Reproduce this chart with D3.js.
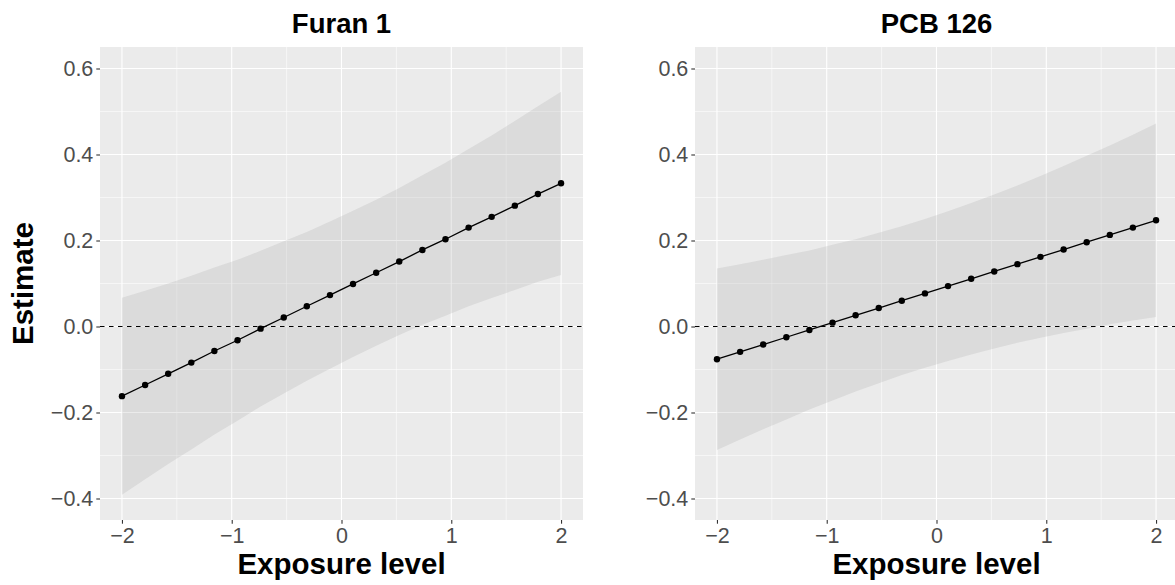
<!DOCTYPE html>
<html>
<head>
  <meta charset="utf-8">
  <style>
    body { margin: 0; background: #ffffff; }
    text { font-family: "Liberation Sans", Arial, sans-serif; }
  </style>
</head>

<body>
  <script src="https://cdn.jsdelivr.net/npm/d3@7"></script>

  <script>
    // exposure levels (20 points from -2 to 2)
    var exposure = [-2, -1.789, -1.579, -1.368, -1.158, -0.947, -0.737, -0.526, -0.316, -0.105,
                    0.105, 0.316, 0.526, 0.737, 0.947, 1.158, 1.368, 1.579, 1.789, 2];

    // Furan 1
    var furanEst = [-0.162, -0.136, -0.110, -0.084, -0.057, -0.032, -0.005, 0.021, 0.047, 0.073,
                    0.099, 0.125, 0.151, 0.178, 0.203, 0.230, 0.255, 0.281, 0.308, 0.333];
    var furanUpper = [0.067, 0.083, 0.100, 0.118, 0.137, 0.155, 0.176, 0.198, 0.220, 0.244,
                      0.269, 0.295, 0.322, 0.352, 0.381, 0.413, 0.444, 0.478, 0.512, 0.546];
    var furanLower = [-0.391, -0.355, -0.320, -0.286, -0.251, -0.219, -0.186, -0.156, -0.126, -0.098,
                      -0.071, -0.045, -0.020, 0.004, 0.025, 0.047, 0.066, 0.085, 0.104, 0.120];

    // PCB 126
    var pcbEst = [-0.076, -0.059, -0.042, -0.025, -0.008, 0.009, 0.026, 0.043, 0.060, 0.077,
                  0.094, 0.111, 0.128, 0.145, 0.162, 0.179, 0.196, 0.213, 0.230, 0.247];
    var pcbUpper = [0.135, 0.145, 0.155, 0.166, 0.177, 0.190, 0.203, 0.218, 0.233, 0.250,
                    0.268, 0.287, 0.307, 0.328, 0.350, 0.373, 0.397, 0.421, 0.446, 0.472];
    var pcbLower = [-0.287, -0.263, -0.239, -0.216, -0.193, -0.172, -0.151, -0.132, -0.113, -0.096,
                    -0.080, -0.065, -0.051, -0.038, -0.026, -0.015, -0.005, 0.005, 0.014, 0.022];

    var panelTitles = ["Furan 1", "PCB 126"];
    var xTicks = [-2, -1, 0, 1, 2];
    var xMinor = [-1.5, -0.5, 0.5, 1.5];
    var yTicks = [-0.4, -0.2, 0.0, 0.2, 0.4, 0.6];
    var yMinor = [-0.3, -0.1, 0.1, 0.3, 0.5];

    var panels = [
      {title: panelTitles[0], est: furanEst, lo: furanLower, hi: furanUpper, left: 100},
      {title: panelTitles[1], est: pcbEst, lo: pcbLower, hi: pcbUpper, left: 695}
    ];

    var W = 1175, H = 585;
    var panelTop = 47, pw = 483, ph = 473;

    var svg = d3.select("body").append("svg")
      .attr("width", W)
      .attr("height", H);

    var yScale = d3.scaleLinear().domain([-0.45, 0.65]).range([ph, 0]);
    var xScale = d3.scaleLinear().domain([-2.2, 2.2]).range([0, pw]);
    var fmt = function(d) { return d3.format(".1f")(d).replace("-", "\u2212"); };
    var fmtX = function(d) { return String(d).replace("-", "\u2212"); };

    panels.forEach(function(p) {
      var g = svg.append("g").attr("transform", "translate(" + p.left + "," + panelTop + ")");

      // panel background
      g.append("rect").attr("width", pw).attr("height", ph).attr("fill", "#ebebeb");

      // minor grid
      g.selectAll(".ymin").data(yMinor).enter().append("line")
        .attr("x1", 0).attr("x2", pw)
        .attr("y1", d => yScale(d)).attr("y2", d => yScale(d))
        .attr("stroke", "#fff").attr("stroke-width", 0.55);
      g.selectAll(".xmin").data(xMinor).enter().append("line")
        .attr("y1", 0).attr("y2", ph)
        .attr("x1", d => xScale(d)).attr("x2", d => xScale(d))
        .attr("stroke", "#fff").attr("stroke-width", 0.55);

      // major grid
      g.selectAll(".ymaj").data(yTicks).enter().append("line")
        .attr("x1", 0).attr("x2", pw)
        .attr("y1", d => yScale(d)).attr("y2", d => yScale(d))
        .attr("stroke", "#fff").attr("stroke-width", 1.1);
      g.selectAll(".xmaj").data(xTicks).enter().append("line")
        .attr("y1", 0).attr("y2", ph)
        .attr("x1", d => xScale(d)).attr("x2", d => xScale(d))
        .attr("stroke", "#fff").attr("stroke-width", 1.1);

      var rows = exposure.map(function(x, i) {
        return {x: x, est: p.est[i], lo: p.lo[i], hi: p.hi[i]};
      });

      // confidence ribbon
      var area = d3.area()
        .x(d => xScale(d.x))
        .y0(d => yScale(d.lo))
        .y1(d => yScale(d.hi));
      g.append("path").datum(rows)
        .attr("d", area)
        .attr("fill", "#999999")
        .attr("fill-opacity", 0.2);

      // reference line at zero
      g.append("line")
        .attr("x1", 0).attr("x2", pw)
        .attr("y1", yScale(0)).attr("y2", yScale(0))
        .attr("stroke", "#000").attr("stroke-width", 1.1)
        .attr("stroke-dasharray", "4.5,4.5");

      // estimate line + points
      var line = d3.line().x(d => xScale(d.x)).y(d => yScale(d.est));
      g.append("path").datum(rows)
        .attr("d", line)
        .attr("fill", "none")
        .attr("stroke", "#000")
        .attr("stroke-width", 1.3);
      g.selectAll(".pt").data(rows).enter().append("circle")
        .attr("cx", d => xScale(d.x))
        .attr("cy", d => yScale(d.est))
        .attr("r", 3.2)
        .attr("fill", "#000");

      // axes
      var yAxis = d3.axisLeft(yScale).tickValues(yTicks).tickFormat(fmt).tickSize(3.7).tickPadding(3);
      var yg = g.append("g").call(yAxis);
      yg.select(".domain").remove();
      yg.selectAll("line").attr("stroke", "#333").attr("stroke-width", 1.1);
      yg.selectAll("text").attr("fill", "#4d4d4d").style("font-size", "21.5px")
        .attr("font-family", "Liberation Sans, Arial, sans-serif");

      var xAxis = d3.axisBottom(xScale).tickValues(xTicks).tickFormat(fmtX).tickSize(3.7).tickPadding(4);
      var xg = g.append("g").attr("transform", "translate(0," + ph + ")").call(xAxis);
      xg.select(".domain").remove();
      xg.selectAll("line").attr("stroke", "#333").attr("stroke-width", 1.1);
      xg.selectAll("text").attr("fill", "#4d4d4d").style("font-size", "21.5px")
        .attr("font-family", "Liberation Sans, Arial, sans-serif");

      // panel title
      g.append("text")
        .attr("x", pw / 2).attr("y", -14)
        .attr("text-anchor", "middle")
        .style("font-size", "27.5px").style("font-weight", "bold")
        .text(p.title);

      // x axis title
      g.append("text")
        .attr("x", pw / 2).attr("y", ph + 54)
        .attr("text-anchor", "middle")
        .style("font-size", "29.5px").style("font-weight", "bold")
        .text("Exposure level");
    });

    // y axis title (only on left)
    svg.append("text")
      .attr("transform", "translate(33," + (panelTop + ph / 2) + ") rotate(-90)")
      .attr("text-anchor", "middle")
      .style("font-size", "29.5px").style("font-weight", "bold")
      .text("Estimate");
  </script>
</body>
</html>
